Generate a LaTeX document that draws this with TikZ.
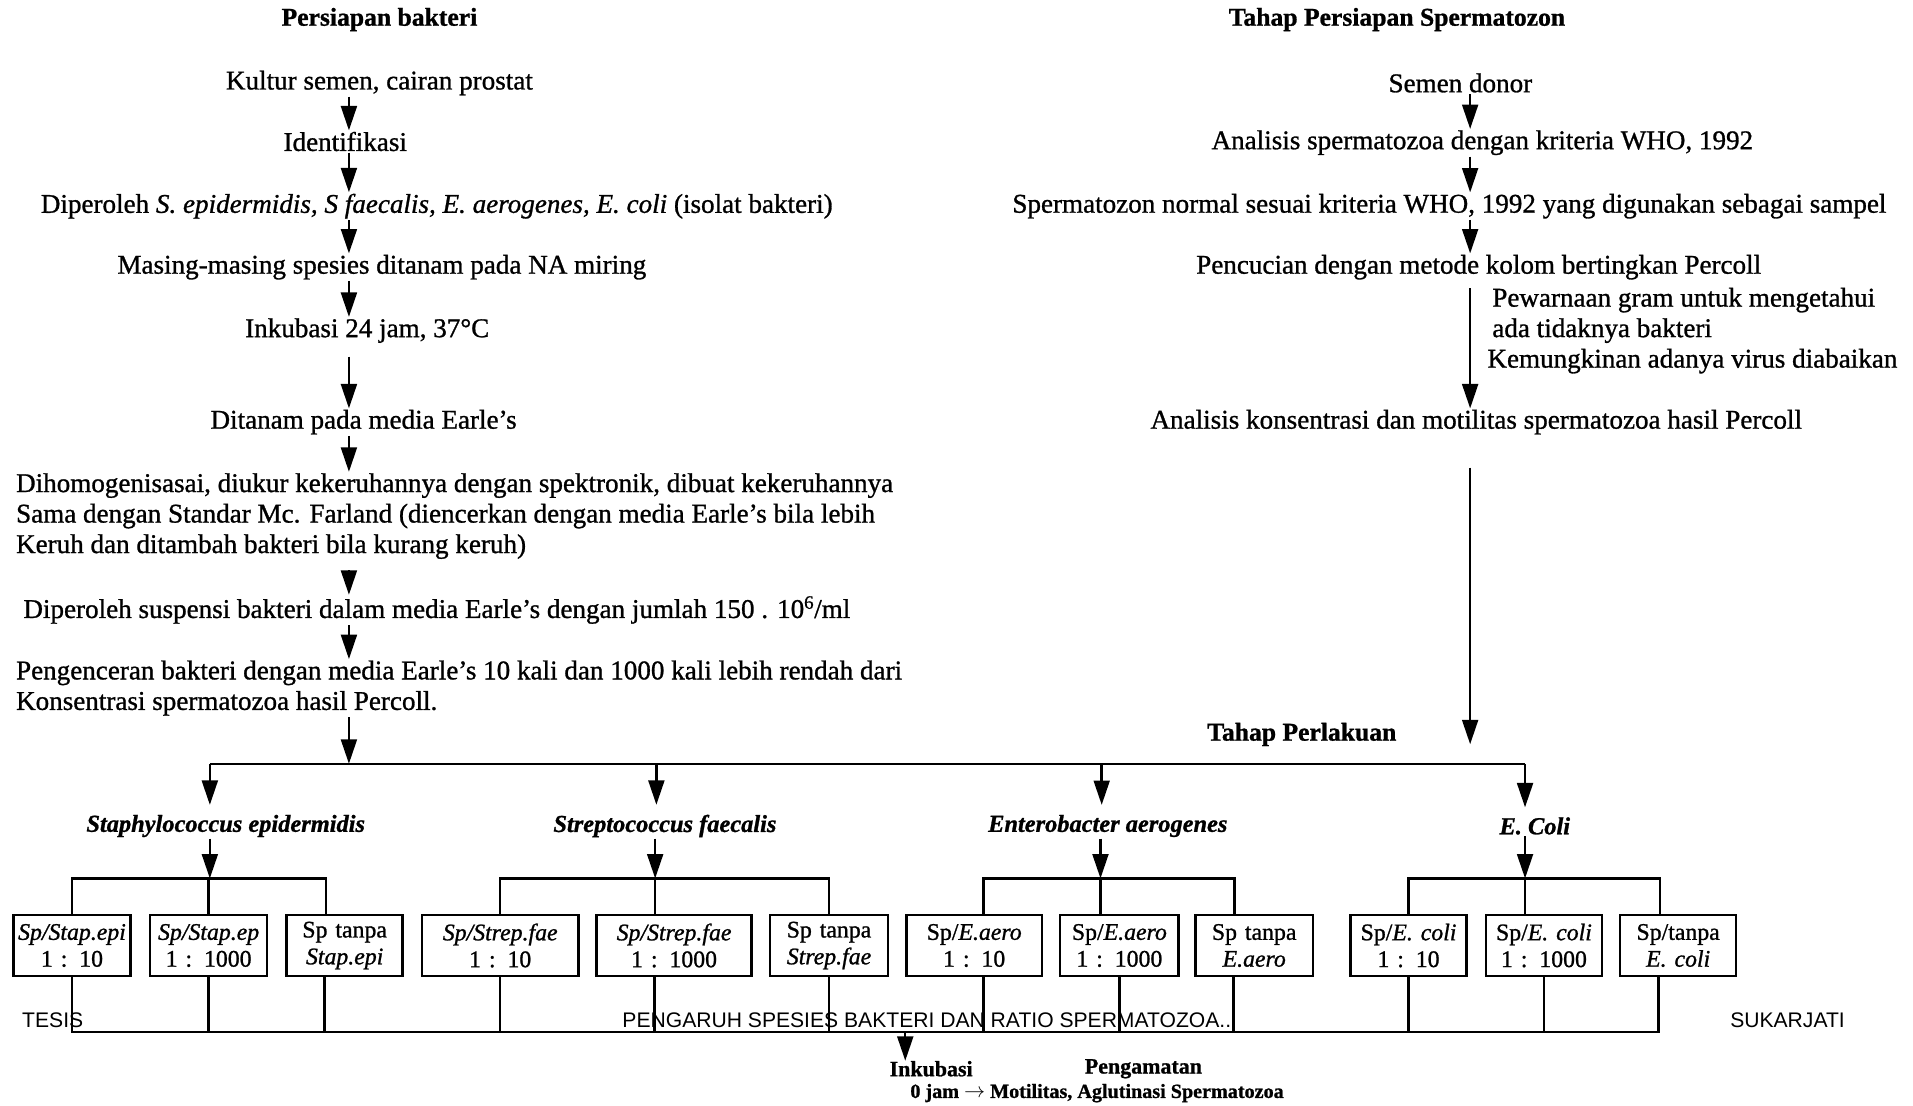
\documentclass[tikz,border=0pt]{standalone}
\usepackage{fontspec}
\setmainfont{Liberation Serif}[FakeBold=1]
\newfontfamily\footfont{Liberation Sans}
\usetikzlibrary{arrows.meta}
\tikzset{
  txt/.style={font=\fontsize{22.2}{25}\selectfont, inner sep=1pt},
  hd/.style={font=\fontsize{21}{24}\selectfont\bfseries, inner sep=1pt},
  spc/.style={font=\fontsize{20}{24}\selectfont\bfseries\itshape, inner sep=1pt},
  foot/.style={font=\footfont\fontsize{17.3}{20}\selectfont, inner sep=0pt, anchor=west},
  bot/.style={font=\fontsize{18}{22}\selectfont\bfseries, inner sep=0pt, anchor=west},
  bx/.style={draw, line width=2pt, minimum height=50pt, inner sep=1pt, align=center,
             font=\fontsize{19.5}{22}\selectfont, text width=#1},
  ln/.style={line width=2pt},
  arr/.style={line width=2pt, -{Triangle[length=20pt,width=13pt]}}
}
\begin{document}
\begin{tikzpicture}[x=1pt,y=-1pt]
\useasboundingbox (0,0) rectangle (1568,906);
% ---------- left column ----------
\node[hd]  (h1) at (311,16) {Persiapan bakteri};
\node[txt] (n1) at (311,68) {Kultur semen, cairan prostat};
\node[txt] (n2) at (283,116) {Identifikasi};
\node[txt] (n3) at (358,169) {Diperoleh \textit{S. epidermidis, S faecalis, E. aerogenes, E. coli} (isolat bakteri)};
\node[txt] (n4) at (313,219) {Masing-masing spesies ditanam pada NA miring};
\node[txt] (n5) at (301,271) {Inkubasi 24 jam, 37°C};
\node[txt] (n6) at (298,346) {Ditanam pada media Earle's};
\node[txt, anchor=west, align=left] (n7) at (12,423) {Dihomogenisasai, diukur kekeruhannya dengan spektronik, dibuat kekeruhannya\\
Sama dengan Standar Mc. Farland (diencerkan dengan media Earle's bila lebih\\
Keruh dan ditambah bakteri bila kurang keruh)};
\node[txt, anchor=west] (n8) at (18,500) {Diperoleh suspensi bakteri dalam media Earle's dengan jumlah 150 . 10\textsuperscript{6}/ml};
\node[txt, anchor=west, align=left] (n9) at (12,564) {Pengenceran bakteri dengan media Earle's 10 kali dan 1000 kali lebih rendah dari\\
Konsentrasi spermatozoa hasil Percoll.};
\coordinate (ax) at (286,0);
\draw[arr] (n1.south -| ax) -- (n2.north -| ax);
\draw[arr] (n2.south -| ax) -- (n3.north -| ax);
\draw[arr] (n3.south -| ax) -- (n4.north -| ax);
\draw[arr] (n4.south -| ax) -- (n5.north -| ax);
\draw[arr, shorten <=10pt] (n5.south -| ax) -- (n6.north -| ax);
\draw[arr] (n6.south -| ax) -- (n7.north -| ax);
\draw[arr, shorten <=8pt] (n7.south -| ax) -- (n8.north -| ax);
\draw[arr] (n8.south -| ax) -- (n9.north -| ax);
% ---------- right column ----------
\node[hd]  (h2) at (1145,16) {Tahap Persiapan Spermatozon};
\node[txt] (r1) at (1197,68) {Semen donor};
\node[txt] (r2) at (1215,117) {Analisis spermatozoa dengan kriteria WHO, 1992};
\node[txt] (r3) at (1188,169) {Spermatozon normal sesuai kriteria WHO, 1992 yang digunakan sebagai sampel};
\node[txt] (r4) at (1212,219) {Pencucian dengan metode kolom bertingkan Percoll};
\node[txt, anchor=west, align=left] (r6) at (1218,271) {\hspace{4pt}Pewarnaan gram untuk mengetahui\\
\hspace{4pt}ada tidaknya bakteri\\
Kemungkinan adanya virus diabaikan};
\node[txt] (r5) at (1210,346) {Analisis konsentrasi dan motilitas spermatozoa hasil Percoll};
\coordinate (rx) at (1205,0);
\draw[arr] (r1.south -| rx) -- (r2.north -| rx);
\draw[arr] (r2.south -| rx) -- (r3.north -| rx);
\draw[arr] (r3.south -| rx) -- (r4.north -| rx);
\draw[arr, shorten <=6pt] (r4.south -| rx) -- (r5.north -| rx);
% ---------- treatment stage ----------
\node[hd] (tp) at (1067,602) {Tahap Perlakuan};
\coordinate (t1) at (172,626);
\coordinate (t2) at (538,626);
\coordinate (t3) at (903,626);
\coordinate (t4) at (1250,626);
\draw[ln] (t1) -- (t4);
\draw[arr] (n9.south -| ax) -- (t1 -| ax);
\draw[arr, shorten <=26pt, shorten >=16pt] (r5.south -| rx) -- (t1 -| rx);
\node[spc] (s1) at (185,677) {Staphylococcus epidermidis};
\node[spc] (s2) at (545,677) {Streptococcus faecalis};
\node[spc] (s3) at (908,677) {Enterobacter aerogenes};
\node[spc] (s4) at (1258,677) {E. Coli};
\draw[arr, shorten >=7pt] (t1) -- (t1 |- s1.north);
\draw[arr, shorten >=7pt] (t2) -- (t2 |- s2.north);
\draw[arr, shorten >=7pt] (t3) -- (t3 |- s3.north);
\draw[arr, shorten >=7pt] (t4) -- (t4 |- s4.north);
\coordinate (g1) at (172,720);
\coordinate (g2) at (537,720);
\coordinate (g3) at (902,720);
\coordinate (g4) at (1250,720);
\draw[arr] (g1 |- s1.south) -- (g1);
\draw[arr] (g2 |- s2.south) -- (g2);
\draw[arr] (g3 |- s3.south) -- (g3);
\draw[arr] (g4 |- s4.south) -- (g4);
% ---------- boxes ----------
\node[bx=94pt]  (b1)  at (59,775)    {\textit{Sp/Stap.epi}\\1 : 10};
\node[bx=94pt]  (b2)  at (171,775)   {\textit{Sp/Stap.ep}\\1 : 1000};
\node[bx=93pt]  (b3)  at (282.5,775) {Sp tanpa\\\textit{Stap.epi}};
\node[bx=126pt] (b4)  at (410,775)   {\textit{Sp/Strep.fae}\\1 : 10};
\node[bx=125pt] (b5)  at (552.5,775) {\textit{Sp/Strep.fae}\\1 : 1000};
\node[bx=95pt]  (b6)  at (679.5,775) {Sp tanpa\\\textit{Strep.fae}};
\node[bx=109pt] (b7)  at (798.5,775) {Sp/\textit{E.aero}\\1 : 10};
\node[bx=95pt]  (b8)  at (917.5,775) {Sp/\textit{E.aero}\\1 : 1000};
\node[bx=94pt]  (b9)  at (1028,775)  {Sp tanpa\\\textit{E.aero}};
\node[bx=93pt]  (b10) at (1154.5,775) {Sp/\textit{E. coli}\\1 : 10};
\node[bx=93pt]  (b11) at (1265.5,775) {Sp/\textit{E. coli}\\1 : 1000};
\node[bx=93pt]  (b12) at (1375.5,775) {Sp/tanpa\\\textit{E. coli}};
% group bars (top)
\draw[ln] (b1.north) -- (b1.north |- g1) -- ([xshift=-15.5pt]b3.north |- g1) -- ([xshift=-15.5pt]b3.north);
\draw[ln] (b2.north) -- (b2.north |- g1);
\draw[ln] (b4.north) -- (b4.north |- g2) -- (b6.north |- g2) -- (b6.north);
\draw[ln] ([xshift=-15.5pt]b5.north) -- ([xshift=-15.5pt]b5.north |- g2);
\draw[ln] ([xshift=7.5pt]b7.north) -- ([xshift=7.5pt]b7.north |- g3) -- ([xshift=-16pt]b9.north |- g3) -- ([xshift=-16pt]b9.north);
\draw[ln] ([xshift=-15.5pt]b8.north) -- ([xshift=-15.5pt]b8.north |- g3);
\draw[ln] (b10.north) -- (b10.north |- g4) -- ([xshift=-15pt]b12.north |- g4) -- ([xshift=-15pt]b12.north);
\draw[ln] ([xshift=-15.5pt]b11.north) -- ([xshift=-15.5pt]b11.north |- g4);
% ---------- bottom ----------
\coordinate (bb) at (742,846);
\draw[ln] (b1.south) -- (b1.south |- bb) -- ([xshift=-16pt]b12.south |- bb) -- ([xshift=-16pt]b12.south);
\draw[ln] (b2.south) -- (b2.south |- bb);
\draw[ln] ([xshift=-16.5pt]b3.south) -- ([xshift=-16.5pt]b3.south |- bb);
\draw[ln] (b4.south) -- (b4.south |- bb);
\draw[ln] ([xshift=-16pt]b5.south) -- ([xshift=-16pt]b5.south |- bb);
\draw[ln] (b6.south) -- (b6.south |- bb);
\draw[ln] ([xshift=7.5pt]b7.south) -- ([xshift=7.5pt]b7.south |- bb);
\draw[ln] (b8.south) -- (b8.south |- bb);
\draw[ln] ([xshift=-17pt]b9.south) -- ([xshift=-17pt]b9.south |- bb);
\draw[ln] (b10.south) -- (b10.south |- bb);
\draw[ln] (b11.south) -- (b11.south |- bb);
\node[foot] (f1) at (18,836) {TESIS};
\node[foot] (f2) at (510,836) {PENGARUH SPESIES BAKTERI DAN RATIO SPERMATOZOA...};
\node[foot] (f3) at (1418,836) {SUKARJATI};
\node[bot] (ink) at (729,876) {Inkubasi};
\node[bot] (pg) at (889,876) {Pengamatan};
\node[bot, font=\fontsize{16.5}{20}\selectfont\bfseries] (oj) at (746,896) {0 jam $\rightarrow$ Motilitas, Aglutinasi Spermatozoa};
\draw[arr] (bb) -- (bb |- ink.north);
\end{tikzpicture}
\end{document}
